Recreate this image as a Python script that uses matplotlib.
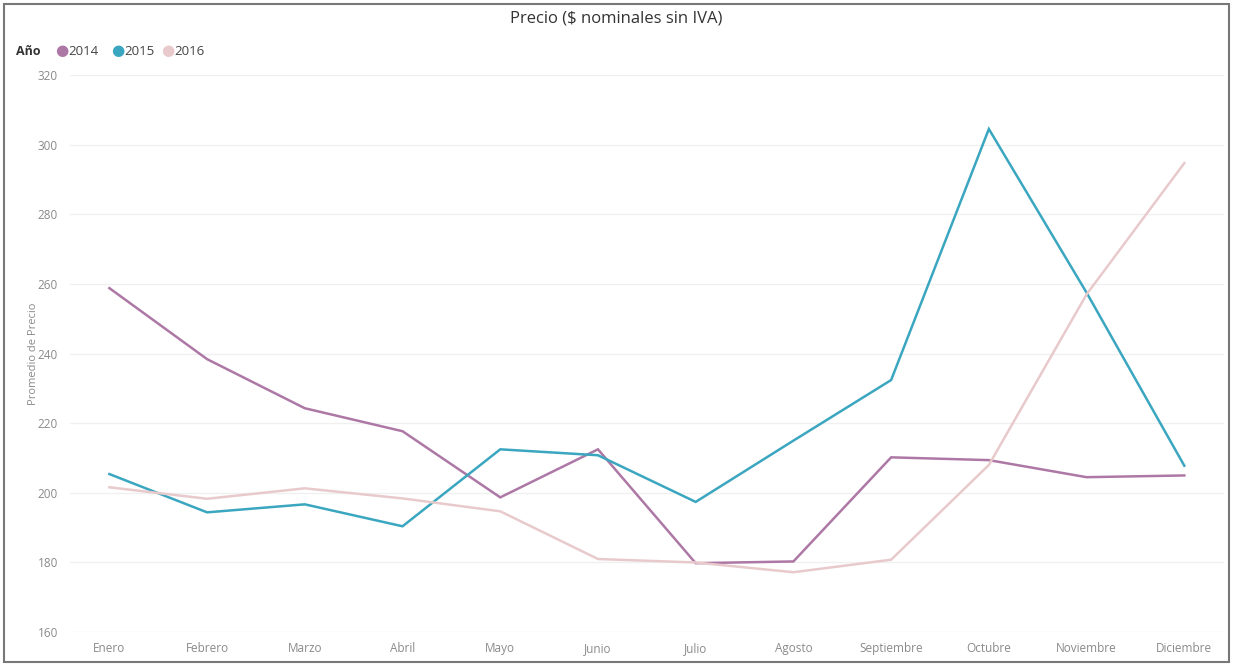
import matplotlib.pyplot as plt
from matplotlib.patches import Rectangle

plt.rcParams['font.family'] = ['Open Sans', 'DejaVu Sans']

# monthly average price per year
meses = ['Enero', 'Febrero', 'Marzo', 'Abril', 'Mayo', 'Junio', 'Julio',
         'Agosto', 'Septiembre', 'Octubre', 'Noviembre', 'Diciembre']
precio_2014 = [258.8, 238.4, 224.3, 217.7, 198.7, 212.5, 179.8, 180.3, 210.2, 209.4, 204.5, 205.0]
precio_2015 = [205.4, 194.4, 196.7, 190.4, 212.5, 210.8, 197.4, 215.0, 232.4, 304.5, 257.5, 207.8]
precio_2016 = [201.6, 198.3, 201.3, 198.4, 194.7, 181.0, 180.0, 177.2, 180.8, 208.0, 257.0, 294.7]
anios = ['2014', '2015', '2016']
colores = ['#ad78a5', '#3ba6bf', '#e8cacc']
y_ticks = [160, 180, 200, 220, 240, 260, 280, 300, 320]

fig = plt.figure(figsize=(12.33, 6.64), dpi=100)
ax = fig.add_axes([0.057, 0.048, 0.936, 0.839])

x = range(len(meses))
for serie, col in zip([precio_2014, precio_2015, precio_2016], colores):
    ax.plot(x, serie, color=col, linewidth=1.8, solid_joinstyle='miter')

ax.set_xlim(-0.4, 11.41)
ax.set_ylim(160, 320)
ax.set_yticks(y_ticks)
ax.set_xticks(list(x))
ax.set_xticklabels(meses)
ax.tick_params(axis='both', length=0, labelsize=8.5, labelcolor='#8a8a8a')
ax.tick_params(axis='x', pad=7)
ax.tick_params(axis='y', pad=9)
ax.grid(axis='y', color='#f0f0f0', linewidth=1)
ax.set_axisbelow(True)
for s in ax.spines.values():
    s.set_visible(False)
ax.set_ylabel('Promedio de Precio', fontsize=8, color='#8a8a8a')
ax.yaxis.set_label_coords(-0.027, 0.5)

fig.text(0.5, 0.972, 'Precio ($ nominales sin IVA)', ha='center', va='center',
         fontsize=12, color='#333333')

# legend drawn as text with round markers
fig.text(0.013, 0.923, 'Año', fontsize=9, fontweight='bold', color='#333333', va='center')
lx = [0.045, 0.090, 0.131]
for pos, lab, col in zip(lx, anios, colores):
    fig.text(pos, 0.923, '●', fontsize=11, color=col, va='center', ha='left')
    fig.text(pos + 0.0105, 0.923, lab, fontsize=9.5, color='#444444', va='center')

# outer frame
fig.add_artist(Rectangle((0.003, 0.003), 0.994, 0.991, transform=fig.transFigure,
                         fill=False, edgecolor='#777777', linewidth=1.5))

fig.savefig('out.png', dpi=100)
